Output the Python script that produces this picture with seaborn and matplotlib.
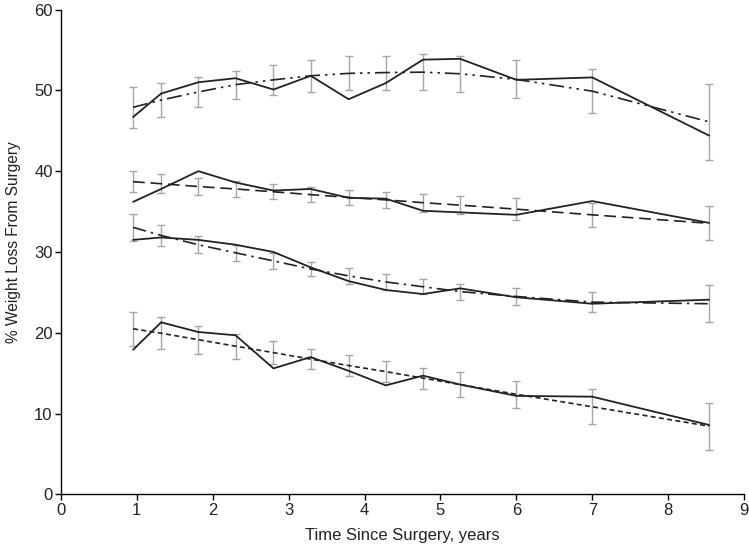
import numpy as np
import matplotlib
matplotlib.use("Agg")
import matplotlib.pyplot as plt
import seaborn as sns

# years since surgery for each measurement
years = [0.95, 1.32, 1.81, 2.30, 2.80, 3.29, 3.79, 4.28, 4.77, 5.26, 6.00, 7.00, 8.54]

# observed mean % weight loss (solid lines), top to bottom
obs_a = [46.7, 49.6, 51.0, 51.5, 50.1, 51.8, 48.9, 50.9, 53.8, 53.9, 51.3, 51.6, 44.4]
obs_b = [36.2, 37.8, 40.0, 38.6, 37.6, 37.8, 36.7, 36.6, 35.1, 34.9, 34.6, 36.3, 33.6]
obs_c = [31.5, 31.8, 31.5, 30.9, 30.0, 28.1, 26.4, 25.3, 24.8, 25.5, 24.4, 23.6, 24.1]
obs_d = [17.9, 21.3, 20.1, 19.7, 15.6, 17.0, 15.3, 13.5, 14.7, 13.6, 12.2, 12.1, 8.6]

# fitted model values (broken lines), error bars are centred on these
fit_a = [47.9, 48.8, 49.8, 50.7, 51.3, 51.8, 52.1, 52.2, 52.25, 52.05, 51.35, 49.9, 46.1]
fit_b = [38.7, 38.45, 38.1, 37.8, 37.45, 37.1, 36.75, 36.45, 36.1, 35.8, 35.3, 34.6, 33.55]
fit_c = [33.05, 32.05, 30.9, 29.9, 28.9, 27.9, 27.05, 26.3, 25.7, 25.1, 24.5, 23.8, 23.6]
fit_d = [20.5, 19.95, 19.15, 18.35, 17.55, 16.75, 15.95, 15.2, 14.4, 13.6, 12.4, 10.85, 8.45]

# error bar half widths
err_a = [2.5, 2.1, 1.8, 1.75, 1.85, 2.0, 2.1, 2.1, 2.25, 2.25, 2.35, 2.7, 4.7]
err_b = [1.3, 1.2, 1.1, 1.0, 0.95, 0.95, 0.95, 1.0, 1.1, 1.15, 1.35, 1.5, 2.1]
err_c = [1.65, 1.35, 1.05, 1.0, 0.95, 0.9, 0.95, 1.0, 0.95, 1.0, 1.0, 1.2, 2.3]
err_d = [2.1, 1.95, 1.75, 1.55, 1.4, 1.25, 1.25, 1.3, 1.3, 1.5, 1.7, 2.15, 2.9]

x_ticks = list(range(0, 10))
y_ticks = list(range(0, 70, 10))

fit_styles = [
    (0, (9, 3, 1.5, 3, 1.5, 3)),  # dash-dot-dot
    (0, (7, 3.5)),                # dashed
    (0, (8, 3, 1.5, 3)),          # dash-dot
    (0, (3, 2)),                  # short dash
]

sns.set_style("ticks")
plt.rcParams["font.family"] = ["Liberation Sans", "DejaVu Sans"]

fig = plt.figure(figsize=(7.49, 5.47), dpi=100)
ax = fig.add_axes([0.0814, 0.096, 0.912, 0.8866])

groups = [
    (obs_a, fit_a, err_a),
    (obs_b, fit_b, err_b),
    (obs_c, fit_c, err_c),
    (obs_d, fit_d, err_d),
]
for (obs, fit, err), ls in zip(groups, fit_styles):
    ax.errorbar(years, fit, yerr=err, fmt="none", ecolor="#a6a6a6",
                elinewidth=1.0, capsize=3, capthick=1.0, zorder=1)
    sns.lineplot(x=years, y=fit, ax=ax, color="#222222", linewidth=1.2,
                 linestyle=ls, zorder=2)
    sns.lineplot(x=years, y=obs, ax=ax, color="#222222", linewidth=1.3,
                 zorder=3)

ax.set_xlim(0, 9)
ax.set_ylim(0, 60)
ax.set_xticks(x_ticks)
ax.set_yticks(y_ticks)
ax.tick_params(axis="both", labelsize=12, length=4, width=1, color="black",
               labelcolor="#222222", pad=2)
ax.set_xlabel("Time Since Surgery, years", fontsize=12, color="#222222", labelpad=7)
ax.set_ylabel("% Weight Loss From Surgery", fontsize=11.2, color="#222222")
ax.yaxis.set_label_coords(-0.058, 0.52)
for side in ["left", "bottom"]:
    ax.spines[side].set_color("black")
    ax.spines[side].set_linewidth(1.0)
sns.despine(ax=ax)

fig.savefig("out.png", dpi=100)
